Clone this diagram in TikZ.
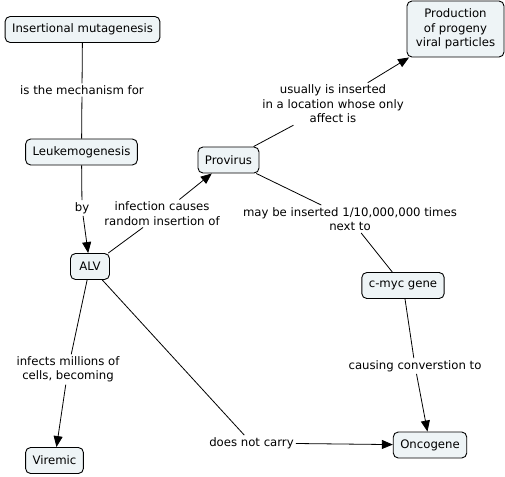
\documentclass[tikz,border=0pt]{standalone}
\usepackage{fontspec}
\setmainfont{DejaVu Sans}
\usetikzlibrary{arrows.meta}
\definecolor{boxfill}{RGB}{238,244,246}
\tikzset{
  concept/.style={draw=black, line width=0.9pt, fill=boxfill, rounded corners=5pt,
    align=center, inner xsep=7pt, inner ysep=3pt, minimum height=26pt,
    font=\fontsize{11.7}{14.5}\selectfont},
  linklabel/.style={align=center, inner sep=2pt, font=\fontsize{11.7}{14.5}\selectfont},
  conn/.style={draw=black, line width=0.8pt},
  arr/.style={conn, -{Triangle[length=11pt,width=9pt]}}
}
\begin{document}
\begin{tikzpicture}[x=1pt,y=-1pt]
\useasboundingbox (0,0) rectangle (505,476);
% concepts
\node[concept] (im) at (82.5,29.5) {Insertional mutagenesis};
\node[concept] (lk) at (81.5,152) {Leukemogenesis};
\node[concept] (pv) at (228.5,160) {Provirus};
\node[concept, minimum width=97pt, minimum height=56pt] (pp) at (455.5,29) {Production\\of progeny\\viral particles};
\node[concept, minimum width=39pt] (alv) at (90,266.5) {ALV};
\node[concept] (vir) at (54.5,460.5) {Viremic};
\node[concept] (cmyc) at (403,285.5) {c-myc gene};
\node[concept] (onc) at (430,445) {Oncogene};
% link labels
\node[linklabel] (l1) at (82,90) {is the mechanism for};
\node[linklabel] (l2) at (82,208) {by};
\node[linklabel] (l3) at (162,213.5) {infection causes\\random insertion of};
\node[linklabel] (l4) at (333,104) {usually is inserted\\in a location whose only\\affect is};
\node[linklabel] (l5) at (350,219) {may be inserted 1/10,000,000 times\\next to};
\node[linklabel] (l6) at (415,366) {causing converstion to};
\node[linklabel] (l7) at (68,369.5) {infects millions of\\cells, becoming};
\node[linklabel] (l8) at (251.5,443) {does not carry};
% connectors
\draw[conn] (im) -- (l1);
\draw[conn] (l1) -- (lk);
\draw[conn] (lk) -- (l2);
\draw[arr] (l2) -- (alv);
\draw[conn] (alv) -- (l3);
\draw[arr] (l3) -- (pv);
\draw[conn] (pv) -- (l4);
\draw[arr] (l4) -- (pp);
\draw[conn] (pv) -- (l5);
\draw[conn] (l5) -- (cmyc);
\draw[conn] (cmyc) -- (l6);
\draw[arr] (l6) -- (onc);
\draw[conn] (alv) -- (l7);
\draw[arr] (l7) -- (vir);
\draw[conn] (alv) -- (l8);
\draw[arr] (l8) -- (onc);
\end{tikzpicture}
\end{document}
